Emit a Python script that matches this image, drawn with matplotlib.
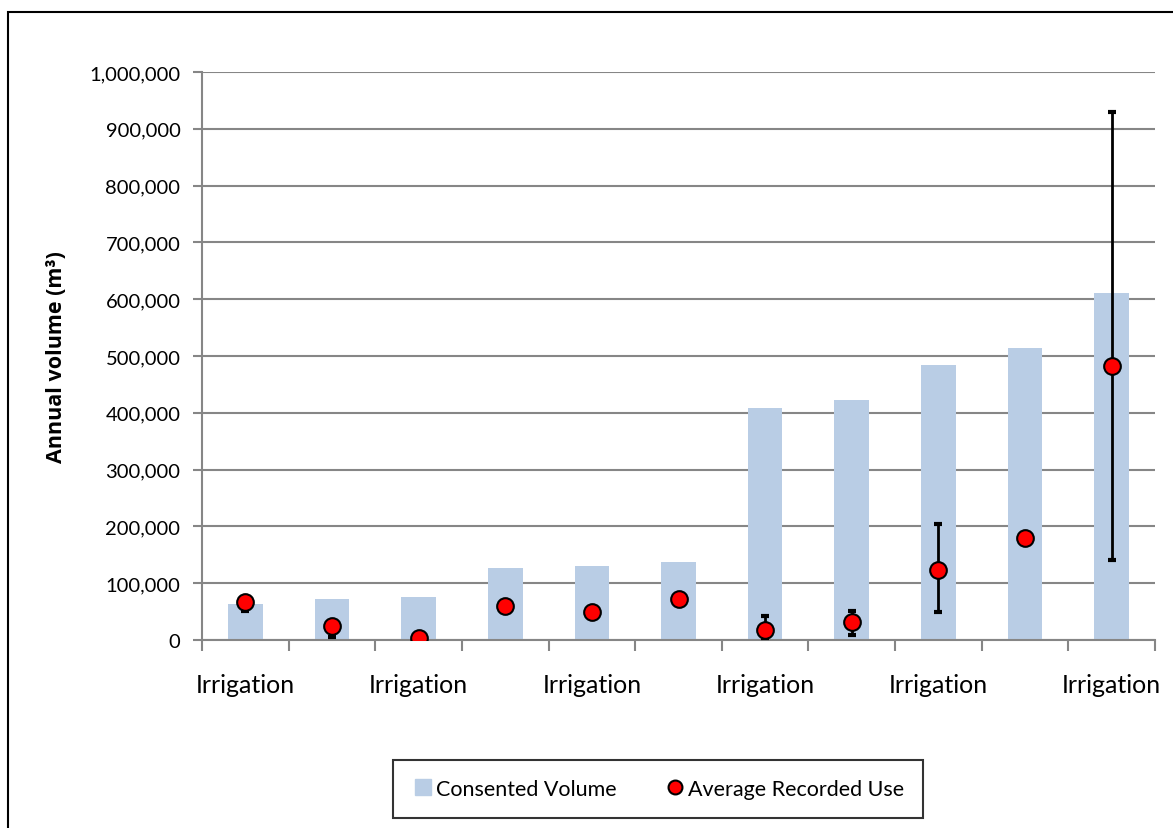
import numpy as np
import matplotlib.pyplot as plt
from matplotlib.patches import Rectangle
from matplotlib.lines import Line2D
from matplotlib.ticker import FuncFormatter, MultipleLocator

plt.rcParams['font.family'] = ['Lato', 'DejaVu Sans']

categories = ["Irrigation"] * 11
consented = [63000, 72000, 75500, 126500, 130000, 137000, 408000, 422500, 484000, 514000, 611000]
recorded = [67000, 24000, 3000, 60000, 49000, 72000, 18000, 32000, 124000, 180000, 482000]
rec_low = [51000, 6000, 3000, 60000, 49000, 72000, 3500, 9500, 50000, 180000, 140000]
rec_high = [69000, 26000, 3000, 60000, 49000, 72000, 43000, 50500, 205000, 180000, 929000]

fig = plt.figure(figsize=(11.73, 8.29), dpi=100)
fig.patches.append(Rectangle((8 / 1173, -0.1), 1.2, 1 - 13 / 829 + 0.1,
                             transform=fig.transFigure, fill=False,
                             edgecolor='black', linewidth=1.5))

ax = fig.add_axes([202 / 1173, 1 - 641 / 829, (1155 - 202) / 1173, (641 - 73) / 829])

x = np.arange(len(categories))
ax.bar(x, consented, width=0.4, color='#b9cde5', zorder=2, label='Consented Volume')

# asymmetric error bars
yerr = [np.array(recorded) - np.array(rec_low), np.array(rec_high) - np.array(recorded)]
ax.errorbar(x, recorded, yerr=yerr, fmt='none', ecolor='black', elinewidth=2,
            capsize=3, capthick=3, zorder=3)
ax.plot(x, recorded, 'o', color='#ff0000', markeredgecolor='black',
        markeredgewidth=1.5, markersize=12, zorder=4, label='Average Recorded Use')

ax.set_xlim(-0.5, len(categories) - 0.5)
ax.set_ylim(0, 1000000)
ax.yaxis.set_major_locator(MultipleLocator(100000))
ax.yaxis.set_major_formatter(FuncFormatter(lambda v, p: f"{int(v):,}"))
ax.grid(axis='y', color='#868686', linewidth=1.5, zorder=0)

ax.set_xticks(np.arange(-0.5, len(categories), 1.0))
ax.set_xticklabels([])
ax.set_xticks(x[::2], minor=True)
ax.set_xticklabels(categories[::2], minor=True, fontsize=18)
ax.tick_params(axis='x', which='major', length=8, width=1.5, color='#868686')
ax.tick_params(axis='x', which='minor', length=0, pad=24)
ax.tick_params(axis='y', length=6.5, width=1.5, color='#868686', labelsize=14.5, pad=9)

for side in ['top', 'right']:
    ax.spines[side].set_visible(False)
for side in ['left', 'bottom']:
    ax.spines[side].set_color('#868686')
    ax.spines[side].set_linewidth(1.5)

ax.set_ylabel('Annual volume (m³)', fontsize=15.5, fontweight='bold',
              family=['Open Sans', 'DejaVu Sans'], labelpad=16)

h_bar = Line2D([], [], marker='s', linestyle='none', color='#b9cde5', markersize=11)
h_pt = Line2D([], [], marker='o', linestyle='none', color='#ff0000',
              markeredgecolor='black', markeredgewidth=1.5, markersize=10)
leg = fig.legend([h_bar, h_pt], ['Consented Volume', 'Average Recorded Use'],
                 loc='center', bbox_to_anchor=(658 / 1173, 1 - 790 / 829), ncol=2,
                 fontsize=15.5, frameon=True, fancybox=False, edgecolor='black',
                 handletextpad=0.1, columnspacing=2.2, borderpad=0.9,
                 handlelength=1.0)
leg.get_frame().set_linewidth(1.5)

fig.savefig('out.png', dpi=100)
